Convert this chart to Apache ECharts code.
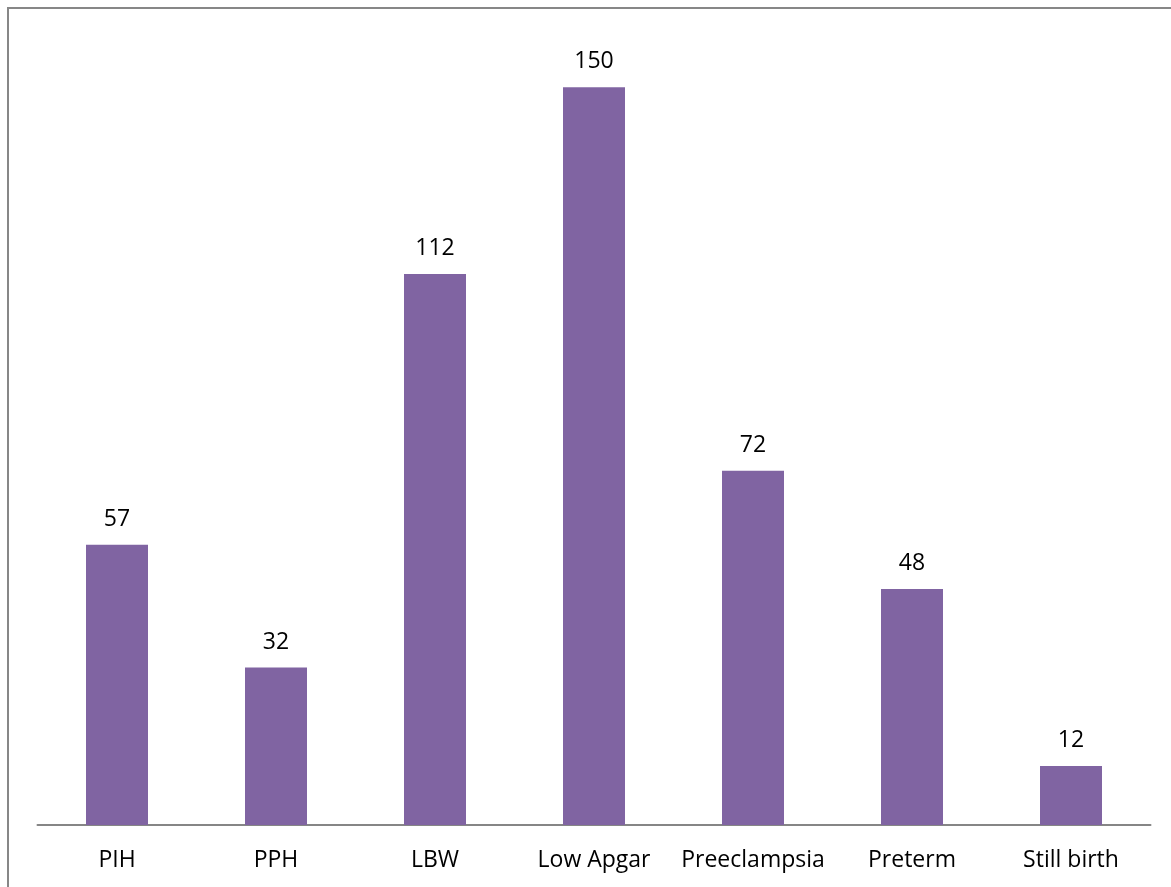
<!DOCTYPE html>
<html>
<head>
<meta charset="utf-8">
<script src="https://cdn.jsdelivr.net/npm/echarts@6/dist/echarts.min.js"></script>
<style>
  html, body { margin: 0; padding: 0; background: #fff; }
  #chart { width: 1171px; height: 887px; }
</style>
</head>
<body>
<div id="chart"></div>
<script>
// 数据
const categories = ['PIH', 'PPH', 'LBW', 'Low Apgar', 'Preeclampsia', 'Preterm', 'Still birth'];
const values = [57, 32, 112, 150, 72, 48, 12];

const myChart = echarts.init(document.getElementById('chart'));

const option = {
  animation: false,
  graphic: [{
    type: 'rect',
    shape: {x: 8, y: 8, width: 1300, height: 1000},
    style: {fill: 'none', stroke: '#878787', lineWidth: 2},
    silent: true
  }],
  grid: {left: 37.5, right: 20.5, top: 38, bottom: 62},
  xAxis: {
    type: 'category',
    data: categories,
    axisTick: {show: false},
    axisLine: {lineStyle: {color: '#868686', width: 2}},
    axisLabel: {color: '#000', fontSize: 23, fontFamily: 'Open Sans', margin: 24, interval: 0}
  },
  yAxis: {
    type: 'value',
    min: 0,
    max: 160,
    show: false,
    splitLine: {show: false}
  },
  series: [{
    type: 'bar',
    data: values,
    barWidth: 62,
    itemStyle: {color: '#8064A2'},
    label: {
      show: true,
      position: 'top',
      distance: 14,
      color: '#000',
      fontSize: 23,
      fontFamily: 'Open Sans'
    }
  }]
};
myChart.setOption(option);
</script>
</body>
</html>
